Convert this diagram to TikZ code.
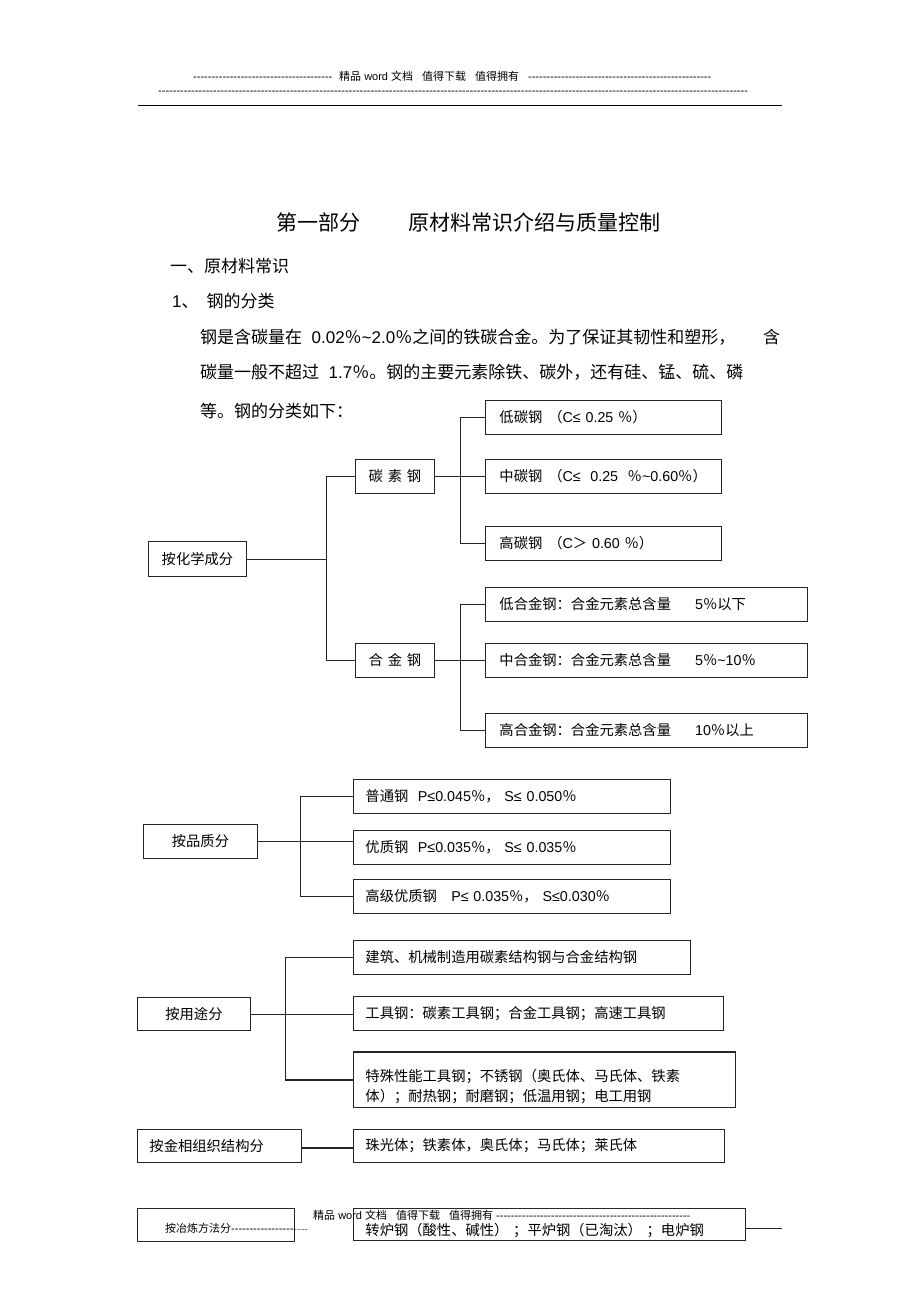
\documentclass[tikz,border=0pt]{standalone}
\usepackage{fontspec}
\setmainfont{Liberation Sans}
\newfontfamily\cjkf{Noto Sans CJK SC}
\newfontfamily\latf{Liberation Sans}
\usetikzlibrary{calc}
\newcount\cjkcnt
\newXeTeXintercharclass\CJKcls
\def\setcjkrange#1#2{\cjkcnt=#1\relax\loop\ifnum\cjkcnt<#2\relax\XeTeXcharclass\cjkcnt=\CJKcls\advance\cjkcnt by 1\repeat}
\setcjkrange{"3000}{"3040}
\setcjkrange{"4E00}{"A000}
\setcjkrange{"FF00}{"FFF0}
\XeTeXinterchartoks 0 \CJKcls = {\cjkf}
\XeTeXinterchartoks 4095 \CJKcls = {\cjkf}
\XeTeXinterchartoks \CJKcls 0 = {\latf}
\XeTeXinterchartoks \CJKcls 4095 = {\latf}
\XeTeXinterchartokenstate=1
\newcommand\tl{\textasciitilde}
\newcommand\dfill[1]{\hbox to #1{\leaders\hbox{-}\hfill}}
\newcommand\bxf{\fontsize{14.3}{20}\selectfont}
\newcommand\bodyf{\fontsize{17}{20}\selectfont}
\newcommand\hdf{\fontsize{11}{13}\selectfont}
\newcommand\bnode[7][]{%
  \pgfmathsetmacro\bw{#5-#3}\pgfmathsetmacro\bh{#6-#4}\pgfmathsetmacro\tw{#5-#3-24}%
  \node[box, minimum width=\bw pt, minimum height=\bh pt, text width=\tw pt, #1] (#2) at (#3,#4) {#7};}
\tikzset{
  box/.style={draw=black!85, line width=0.9pt, anchor=north west, inner xsep=12pt, inner ysep=0pt, align=left, font=\bxf},
  conn/.style={draw=black!85, line width=0.9pt},
  txt/.style={anchor=west, inner sep=0pt}
}
\begin{document}
\begin{tikzpicture}[x=1pt,y=-1pt]
\useasboundingbox (0,0) rectangle (920,1303);
% header
\node[txt, font=\hdf] (hd1) at (193,76) {\dfill{142pt}\hspace{4pt}精品 word 文档\hspace{9pt}值得下载\hspace{9pt}值得拥有\hspace{9pt}\dfill{185pt}};
\node[txt, font=\hdf] (hd2) at (158,93) {\dfill{590pt}};
\draw[line width=0.6pt] (138,105) -- (782,105);
% title and text
\node[txt, font=\fontsize{21}{24}\selectfont] (title) at (276,222) {第一部分\hspace{48pt}原材料常识介绍与质量控制};
\node[txt, font=\bodyf] (sec) at (170,266) {一、原材料常识};
\node[txt, font=\bodyf] (sub) at (172,301) {1、\hspace{8pt}钢的分类};
\node[txt, font=\bodyf] (p1) at (200,337) {钢是含碳量在\ \ 0.02％\tl2.0％之间的铁碳合金。为了保证其韧性和塑形，};
\node[txt, font=\bodyf] (p1b) at (763,337) {含};
\node[txt, font=\bodyf] (p2) at (200,372) {碳量一般不超过\ \ 1.7％。钢的主要元素除铁、碳外，还有硅、锰、硫、磷};
\node[txt, font=\bodyf] (p3) at (200,411) {等。钢的分类如下：};
% chemical composition
\bnode[align=center]{chem}{148}{541}{246}{576}{按化学成分}
\bnode[align=center]{carbon}{355}{459}{434}{493}{碳\ 素\ 钢}
\bnode[align=center]{alloy}{355}{643}{434}{677}{合\ 金\ 钢}
\bnode[inner xsep=14pt]{lowc}{485}{400}{717}{434}{低碳钢\hspace{6pt}（C≤ 0.25 ％）}
\bnode[inner xsep=14pt]{midc}{485}{459}{717}{493}{中碳钢\hspace{6pt}（C≤\ \ 0.25\ \ ％\tl0.60％）}
\bnode[inner xsep=14pt]{highc}{485}{526}{717}{560}{高碳钢\hspace{6pt}（C＞ 0.60 ％）}
\bnode[inner xsep=14pt]{lowa}{485}{587}{803}{621}{低合金钢：合金元素总含量\hspace{24pt}5％以下}
\bnode[inner xsep=14pt]{mida}{485}{643}{803}{677}{中合金钢：合金元素总含量\hspace{24pt}5％\tl10％}
\bnode[inner xsep=14pt]{higha}{485}{713}{803}{747}{高合金钢：合金元素总含量\hspace{24pt}10％以上}
\path (chem.east) -- coordinate[pos=0.74] (j1) (chem.east -| carbon.west);
\draw[conn] (chem.east) -- (j1);
\draw[conn] (carbon.west) -| (j1) |- (alloy.west);
\coordinate (j2) at ($(carbon.east)!0.5!(midc.west)$);
\draw[conn] (carbon.east) -- (midc.west);
\draw[conn] (lowc.west) -| (j2) |- (highc.west);
\coordinate (j3) at ($(alloy.east)!0.5!(mida.west)$);
\draw[conn] (alloy.east) -- (mida.west);
\draw[conn] (lowa.west) -| (j3) |- (higha.west);
% quality
\bnode[align=center]{qual}{143}{824}{257}{858}{按品质分}
\bnode{q1}{353}{779}{670}{813}{普通钢\ \ P≤0.045％，\ S≤ 0.050％}
\bnode{q2}{353}{830}{670}{864}{优质钢\ \ P≤0.035％，\ S≤ 0.035％}
\bnode{q3}{353}{879}{670}{913}{高级优质钢\ \ \ P≤ 0.035％，\ S≤0.030％}
\path (qual.east) -- coordinate[pos=0.45] (j4) (qual.east -| q2.west);
\draw[conn] (qual.east) -- (qual.east -| q2.west);
\draw[conn] (q1.west) -| (j4) |- (q3.west);
% usage
\bnode[align=center]{use}{137}{997}{250}{1030}{按用途分}
\bnode{u1}{353}{940}{690}{974}{建筑、机械制造用碳素结构钢与合金结构钢}
\bnode{u2}{353}{996}{723}{1030}{工具钢：碳素工具钢；合金工具钢；高速工具钢}
\bnode{u3}{353}{1052}{735}{1107}{\rule{0pt}{26pt}特殊性能工具钢；不锈钢（奥氏体、马氏体、铁素\\体）；耐热钢；耐磨钢；低温用钢；电工用钢}
\draw[line width=1.6pt, black!85] (u3.north west) -- (u3.north east);
\path (use.east) -- coordinate[pos=0.34] (j5) (use.east -| u2.west);
\draw[conn] (use.east) -- (use.east -| u2.west);
\draw[conn] (u1.west) -| (j5) -- (j5 |- u3.west);
\draw[conn, line width=1.5pt] ($(j5 |- u3.west)+(0,-20)$) |- (u3.west);
% metallographic
\bnode{meta}{137}{1129}{301}{1162}{按金相组织结构分}
\bnode{m1}{353}{1129}{724}{1162}{珠光体；铁素体，奥氏体；马氏体；莱氏体}
\draw[conn, line width=1.5pt] ([yshift=-2pt]meta.east) -- ([yshift=-2pt]meta.east -| m1.west);
% smelting
\bnode{smelt}{137}{1208}{294}{1241}{}
\node[txt, font=\hdf] (smeltt) at (165,1228) {按冶炼方法分\dfill{78pt}};
\bnode{s1}{353}{1208}{745}{1240}{\rule{0pt}{24pt}转炉钢（酸性、碱性）\ ；平炉钢（已淘汰）\ ；电炉钢}
\draw[black!85, line width=0.7pt, double, double distance=2.2pt] ([yshift=-2.5pt]smelt.east) -- ([yshift=-2.5pt]smelt.east -| s1.west);
\coordinate (rend) at (782,1228);
\draw[conn] (s1.east |- rend) -- (rend);
\node[txt, font=\hdf] (ft) at (313,1215) {精品 word 文档\hspace{9pt}值得下载\hspace{9pt}值得拥有 \dfill{195pt}};
\end{tikzpicture}
\end{document}
